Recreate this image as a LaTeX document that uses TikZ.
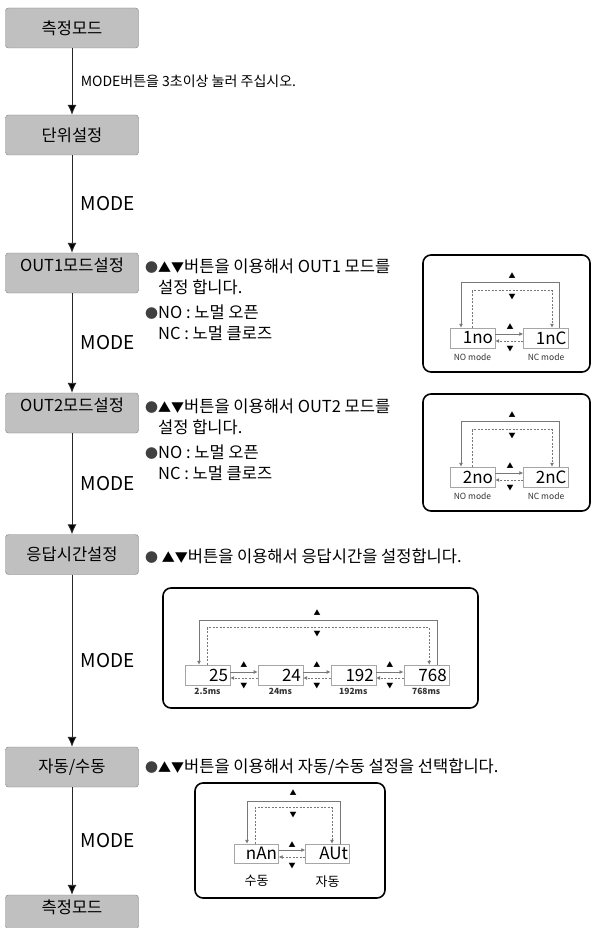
\documentclass[tikz,border=0pt]{standalone}
\usepackage{fontspec}
\setmainfont{Noto Sans CJK KR}
\usetikzlibrary{arrows.meta, positioning, calc}
\definecolor{boxgray}{RGB}{192,192,192}
\definecolor{edgegray}{RGB}{125,125,125}
\definecolor{wiregray}{RGB}{120,120,120}
\newcommand{\dotbul}{{\fontsize{13}{13}\selectfont\color{black!75}●}}
\newcommand{\updn}{{\fontsize{13}{13}\selectfont ▲▼}}

\begin{document}
\begin{tikzpicture}[x=1pt, y=-1pt,
    flowbox/.style={draw=edgegray, fill=boxgray, rounded corners=3pt, minimum width=133pt, minimum height=40pt, inner sep=0pt, font=\fontsize{16.5}{16.5}\selectfont},
    flow/.style={draw=black!85, line width=0.9pt, -{Latex[length=10pt,width=9pt]}},
    modelabel/.style={anchor=west, xshift=5pt, font=\fontsize{19}{19}\selectfont},
    modenote/.style={modelabel, font=\fontsize{14}{14}\selectfont},
    note/.style={anchor=west, align=left, inner sep=0pt, font=\fontsize{16.5}{21}\selectfont},
    panel/.style={draw=black, line width=1.6pt, rounded corners=8pt},
    seg/.style={draw=gray!70, fill=white, minimum width=45pt, minimum height=20pt, inner sep=0pt, text width=41pt, align=right, font=\fontsize{17}{17}\selectfont},
    tag/.style={inner sep=0pt, font=\fontsize{8.5}{8.5}\selectfont, text=black!80},
    wire/.style={draw=wiregray, line width=0.8pt, -{Latex[length=4pt,width=4pt]}},
    backwire/.style={wire, dash pattern=on 2pt off 1.5pt},
    tri/.style={inner sep=0pt, font=\fontsize{7}{7}\selectfont}]
    \useasboundingbox (0,0) rectangle (595,928);

    \node[flowbox] (top) at (72,28) {측정모드};
    \node[flowbox] (unit) at (72,135) {단위설정};
    \node[flowbox, text depth=16pt] (out1) at (72,273) {OUT1모드설정};
    \node[flowbox, text depth=16pt] (out2) at (72,413) {OUT2모드설정};
    \node[flowbox] (resp) at (72,554.5) {응답시간설정};
    \node[flowbox] (autosel) at (72,767) {자동/수동};
    \node[flowbox, minimum height=34pt, text depth=10pt] (last) at (72,912) {측정모드};
    \path[flow]
        (top) edge node[modenote] {MODE버튼을 3초이상 눌러 주십시오.} (unit)
        (unit) edge node[modelabel] {MODE} (out1)
        (out1) edge node[modelabel] {MODE} (out2)
        (out2) edge node[modelabel] {MODE} (resp)
        (resp) edge node[modelabel] {MODE} (autosel)
        (autosel) edge node[modelabel] {MODE} (last);

    \node[note] (n1) at (145,276.5) {\dotbul\updn 버튼을 이용해서 OUT1 모드를\\\hphantom{\dotbul}설정 합니다.};
    \node[note] (n2) at (145,322.5) {\dotbul NO : 노멀 오픈\\\hphantom{\dotbul}NC : 노멀 클로즈};
    \node[note] (n3) at (145,416.5) {\dotbul\updn 버튼을 이용해서 OUT2 모드를\\\hphantom{\dotbul}설정 합니다.};
    \node[note] (n4) at (145,462.5) {\dotbul NO : 노멀 오픈\\\hphantom{\dotbul}NC : 노멀 클로즈};
    \node[note] (n5) at (145,556) {\dotbul{} \updn 버튼을 이용해서 응답시간을 설정합니다.};
    \node[note] (n6) at (145,767) {\dotbul\updn 버튼을 이용해서 자동/수동 설정을 선택합니다.};

    \foreach \n/\dy/\ta/\tb in {1/0/1no/1nC, 2/139/2no/2nC} {
        \draw[panel] (423,255+\dy) rectangle (590,372+\dy);
        \node[seg] (d\n-a) at (472.5,338+\dy) {\ta};
        \node[seg] (d\n-b) at (546,338+\dy) {\tb};
        \node[tag, below=5pt of d\n-a] {NO mode};
        \node[tag, below=5pt of d\n-b] {NC mode};
        \draw[wire] ([xshift=13pt]d\n-b.north) -- ++(0,-45) -| ([xshift=-11.5pt]d\n-a.north);
        \draw[backwire] (d\n-a.north) -- ++(0,-37) -| ([xshift=6pt]d\n-b.north);
        \node[tri] at (512,276+\dy) {▲};
        \node[tri] at (512,297+\dy) {▼};
        \draw[wire] ($(d\n-a.east)+(0,-4)$) -- ($(d\n-b.west)+(0,-4)$);
        \draw[backwire] ($(d\n-b.west)+(0,3)$) -- ($(d\n-a.east)+(0,3)$);
        \node[tri] at (510,327+\dy) {▲};
        \node[tri] at (510,349+\dy) {▼};
    }

    \draw[panel] (163,588) rectangle (478,708);
    \node[seg] (r1) at (207.5,675) {25};
    \node[seg, right=27.5pt of r1] (r2) {24};
    \node[seg, right=27.5pt of r2] (r3) {192};
    \node[seg, right=27.5pt of r3] (r4) {768};
    \foreach \r/\t in {r1/2.5ms, r2/24ms, r3/192ms, r4/768ms}
        \node[tag, font=\fontsize{8.5}{8.5}\selectfont\bfseries, below=3pt of \r] {\t};
    \draw[wire] ([xshift=11pt]r4.north) -- ++(0,-44) -| ([xshift=-8.5pt]r1.north);
    \draw[backwire] (r1.north) -- ++(0,-37) -| ([xshift=3pt]r4.north);
    \node[tri] at (317,613) {▲};
    \node[tri] at (317,634) {▼};
    \foreach \a/\b in {r1/r2, r2/r3, r3/r4} {
        \draw[wire] ($(\a.east)+(0,-3)$) -- ($(\b.west)+(0,-3)$);
        \draw[backwire] ($(\b.west)+(0,3)$) -- ($(\a.east)+(0,3)$);
        \node[tri] at ($(\a.east)!0.5!(\b.west)+(0,-10)$) {▲};
        \node[tri] at ($(\a.east)!0.5!(\b.west)+(0,11)$) {▼};
    }

    \draw[panel] (195,783) rectangle (385,898);
    \node[seg, minimum width=44pt, minimum height=19pt] (a1) at (256.5,853.5) {nAn};
    \node[seg, minimum width=44pt, minimum height=19pt] (a2) at (327.5,853.5) {AUt};
    \node[inner sep=0pt, font=\fontsize{13}{13}\selectfont, below=12pt of a1] {수동};
    \node[inner sep=0pt, font=\fontsize{13}{13}\selectfont, below=12pt of a2] {자동};
    \draw[wire] ([xshift=12.5pt]a2.north) -- ++(0,-42) -| ([xshift=-9.5pt]a1.north);
    \draw[backwire] ([xshift=-1.5pt]a1.north) -- ++(0,-36) -| ([xshift=4.5pt]a2.north);
    \node[tri] at (293,793) {▲};
    \node[tri] at (293,815) {▼};
    \draw[wire] ($(a1.east)+(0,-3.5)$) -- ($(a2.west)+(0,-3.5)$);
    \draw[backwire] ($(a2.west)+(0,3.5)$) -- ($(a1.east)+(0,3.5)$);
    \node[tri] at (292,845) {▲};
    \node[tri] at (292,866) {▼};
\end{tikzpicture}
\end{document}
